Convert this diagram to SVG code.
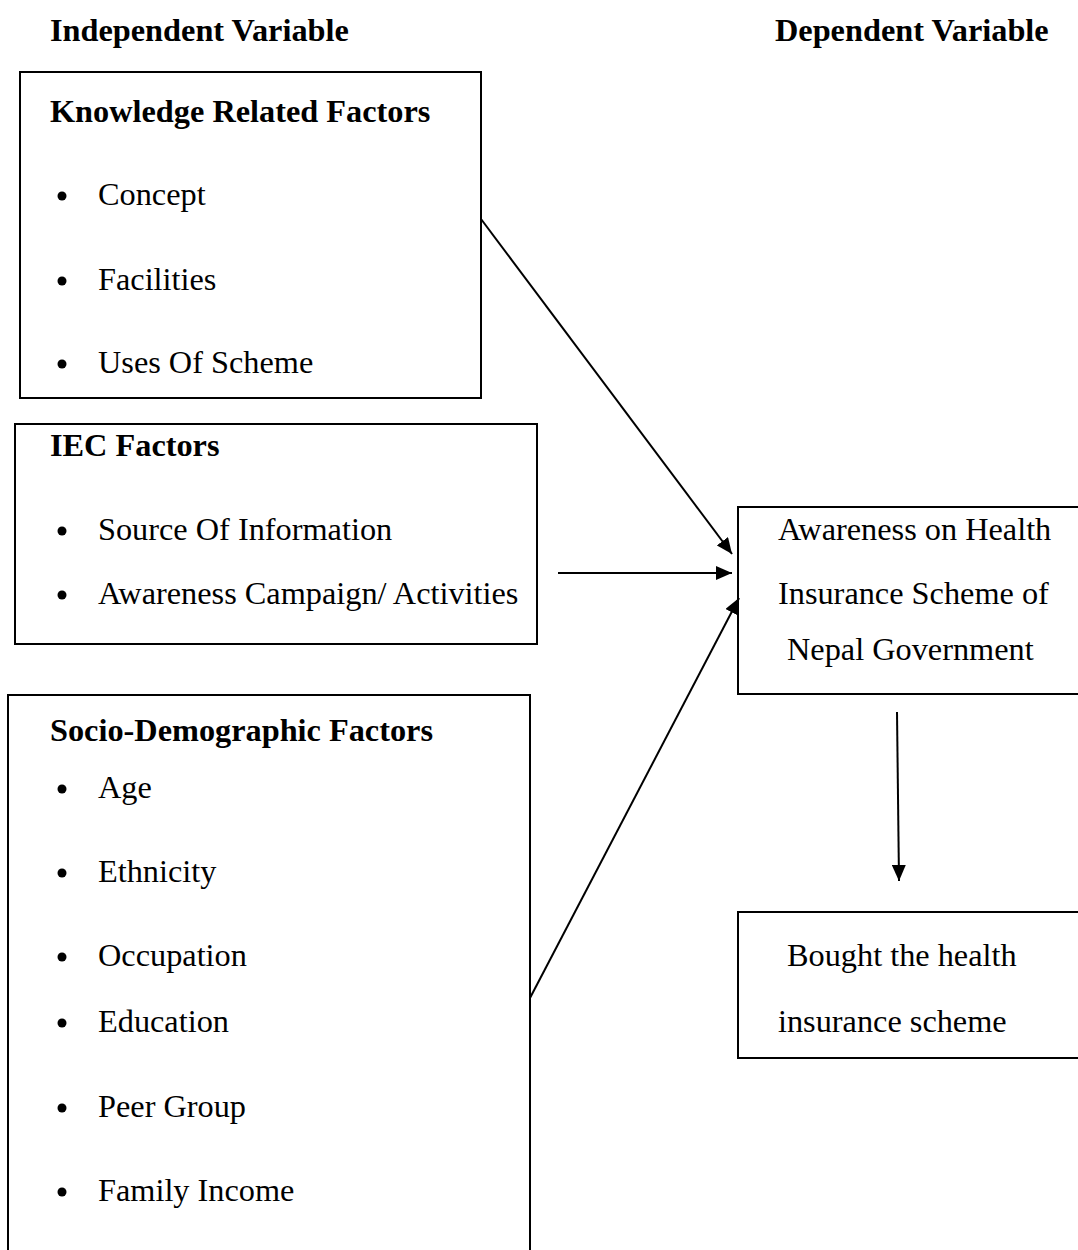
<svg xmlns="http://www.w3.org/2000/svg" width="1078" height="1250" viewBox="0 0 1078 1250">
<defs>
<style>
text{font-family:"Liberation Serif","Times New Roman",serif;font-size:32.3px;fill:#000}
.b{font-weight:bold}
.box{fill:none;stroke:#000;stroke-width:2}
.dot{fill:#000}
.con{stroke:#000;stroke-width:2;fill:none;marker-end:url(#ah)}
</style>
<marker id="ah" viewBox="0 0 10 10" refX="10" refY="5" markerWidth="16" markerHeight="14" markerUnits="userSpaceOnUse" orient="auto" preserveAspectRatio="none">
<path d="M0,0 L10,5 L0,10 z" fill="#000"/>
</marker>
</defs>
<rect width="1078" height="1250" fill="#fff"/>
<g id="headers">
<text class="b" x="50" y="41">Independent Variable</text>
<text class="b" x="775" y="41">Dependent Variable</text>
</g>
<g id="knowledge">
<rect class="box" x="20" y="72" width="461" height="326"/>
<text class="b" x="50" y="122">Knowledge Related Factors</text>
<circle class="dot" cx="62" cy="196" r="4.5"/><text x="98" y="205">Concept</text>
<circle class="dot" cx="62" cy="281" r="4.5"/><text x="98" y="290">Facilities</text>
<circle class="dot" cx="62" cy="364" r="4.5"/><text x="98" y="373">Uses Of Scheme</text>
</g>
<g id="iec">
<rect class="box" x="15" y="424" width="522" height="220"/>
<text class="b" x="50" y="456">IEC Factors</text>
<circle class="dot" cx="62" cy="531" r="4.5"/><text x="98" y="540">Source Of Information</text>
<circle class="dot" cx="62" cy="595" r="4.5"/><text x="98" y="604">Awareness Campaign/ Activities</text>
</g>
<g id="socio">
<rect class="box" x="8" y="695" width="522" height="600"/>
<text class="b" x="50" y="741">Socio-Demographic Factors</text>
<circle class="dot" cx="62" cy="789" r="4.5"/><text x="98" y="798">Age</text>
<circle class="dot" cx="62" cy="873" r="4.5"/><text x="98" y="882">Ethnicity</text>
<circle class="dot" cx="62" cy="957" r="4.5"/><text x="98" y="966">Occupation</text>
<circle class="dot" cx="62" cy="1023" r="4.5"/><text x="98" y="1032">Education</text>
<circle class="dot" cx="62" cy="1108" r="4.5"/><text x="98" y="1117">Peer Group</text>
<circle class="dot" cx="62" cy="1192" r="4.5"/><text x="98" y="1201">Family Income</text>
</g>
<g id="awareness">
<rect class="box" x="738" y="507" width="360" height="187"/>
<text x="778" y="540">Awareness on Health</text>
<text x="778" y="604">Insurance Scheme of</text>
<text x="787" y="660">Nepal Government</text>
</g>
<g id="bought">
<rect class="box" x="738" y="912" width="360" height="146"/>
<text x="787" y="966">Bought the health</text>
<text x="778" y="1032">insurance scheme</text>
</g>
<g id="connectors">
<line class="con" x1="481" y1="219" x2="732" y2="554"/>
<line class="con" x1="558" y1="573" x2="732" y2="573"/>
<line class="con" x1="530" y1="998" x2="739" y2="598"/>
<line class="con" x1="897" y1="712" x2="899" y2="881"/>
</g>
</svg>
